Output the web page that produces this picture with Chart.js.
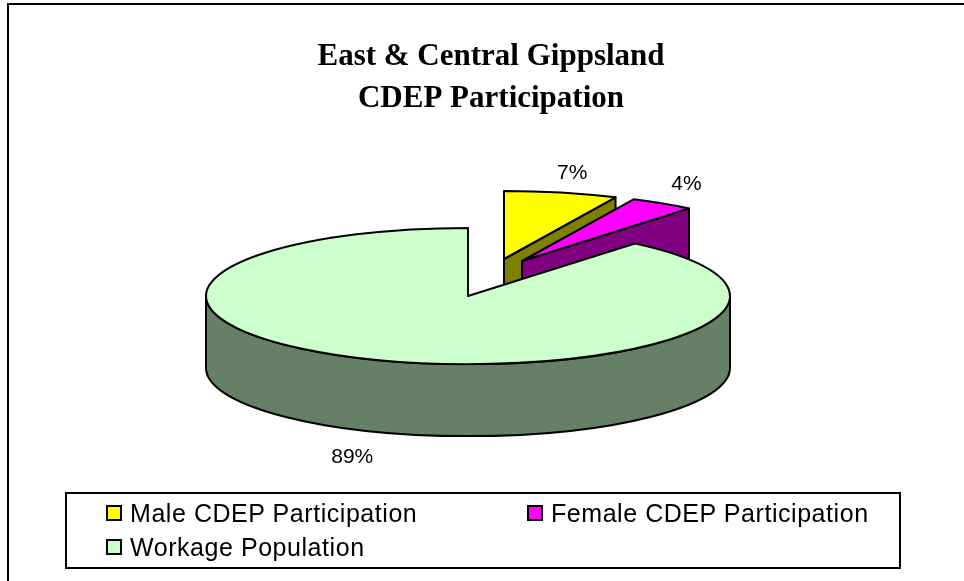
<!DOCTYPE html>
<html>
<head>
<meta charset="utf-8">
<title>East & Central Gippsland CDEP Participation</title>
<script src="https://cdn.jsdelivr.net/npm/chart.js@4"></script>
<style>
    html, body { margin: 0; padding: 0; background: #fff; overflow: hidden; }
    #wrap { position: relative; width: 964px; height: 581px; overflow: hidden; }
    #frame { position: absolute; left: 7px; top: 3px; width: 1000px; height: 700px; border: 2px solid #000; }
    #chart { position: absolute; left: 0; top: 0; }
    #legend { position: absolute; left: 65px; top: 492px; width: 832px; height: 73px; border: 2px solid #000;
              font-family: "Liberation Sans", Arial, sans-serif; font-size: 25px; letter-spacing: 0.55px; color: #000; }
    .item { position: absolute; white-space: nowrap; line-height: 28px; }
    .swatch { position: absolute; left: -24px; top: 6px; width: 12px; height: 12px; border: 2px solid #000; }
</style>
</head>
<body>
<div id="wrap">
    <div id="frame"></div>
    <canvas id="chart" width="964" height="581"></canvas>
    <div id="legend"></div>
</div>
<script>
const titleLines = ['East & Central Gippsland', 'CDEP Participation'];
const categories = ['Male CDEP Participation', 'Female CDEP Participation', 'Workage Population'];
const values = [7, 4, 89];
const topColors = ['#ffff00', '#ff00ff', '#ccffcc'];
const wallColors = ['#808000', '#800080', '#668066'];

// Vista 3D della torta
const pieX = 468;
const pieY = 296;
const pieRadius = 262;
const squash = 0.26;
const depth = 72;
const explodeX = [36, 54, 0];
const explodeY = [-37, -35, 0];
const labelNudgeX = [11, 24, -27];
const labelNudgeY = [-19, -19, 97];

const pie3d = {
    id: 'pie3d',
    beforeDatasetsDraw(chart) {
        const ctx = chart.ctx;
        const arcs = chart.getDatasetMeta(0).data;
        ctx.save();
        ctx.lineWidth = 2;
        ctx.lineJoin = 'round';
        ctx.strokeStyle = '#000';

        arcs.forEach((arc, i) => {
            const { startAngle, endAngle } = arc.getProps(['startAngle', 'endAngle'], true);
            const cx = pieX + explodeX[i];
            const cy = pieY + explodeY[i];
            const rimX = a => cx + Math.cos(a) * pieRadius;
            const rimY = a => cy + Math.sin(a) * pieRadius * squash;

            // Facce laterali visibili
            ctx.fillStyle = wallColors[i];
            [[endAngle, Math.cos(endAngle) > 0.001], [startAngle, Math.cos(startAngle) < -0.001]].forEach(([a, visible]) => {
                if (!visible) return;
                ctx.beginPath();
                ctx.moveTo(cx, cy);
                ctx.lineTo(rimX(a), rimY(a));
                ctx.lineTo(rimX(a), rimY(a) + depth);
                ctx.lineTo(cx, cy + depth);
                ctx.closePath();
                ctx.fill();
                ctx.stroke();
            });

            // Bordo esterno, solo la metà davanti
            const from = Math.max(startAngle, 0);
            const to = Math.min(endAngle, Math.PI);
            if (from < to) {
                ctx.beginPath();
                ctx.ellipse(cx, cy, pieRadius, pieRadius * squash, 0, from, to);
                ctx.lineTo(rimX(to), rimY(to) + depth);
                ctx.ellipse(cx, cy + depth, pieRadius, pieRadius * squash, 0, to, from, true);
                ctx.closePath();
                ctx.fill();
                ctx.stroke();
            }

            // Faccia superiore
            ctx.fillStyle = topColors[i];
            ctx.beginPath();
            ctx.moveTo(cx, cy);
            ctx.ellipse(cx, cy, pieRadius, pieRadius * squash, 0, startAngle, endAngle);
            ctx.closePath();
            ctx.fill();
            ctx.stroke();
        });

        // Etichette percentuali
        ctx.fillStyle = '#000';
        ctx.font = '21px "Liberation Sans", Arial, sans-serif';
        ctx.textAlign = 'center';
        ctx.textBaseline = 'middle';
        arcs.forEach((arc, i) => {
            const { startAngle, endAngle } = arc.getProps(['startAngle', 'endAngle'], true);
            const mid = (startAngle + endAngle) / 2;
            const x = pieX + explodeX[i] + Math.cos(mid) * pieRadius + labelNudgeX[i];
            const y = pieY + explodeY[i] + Math.sin(mid) * pieRadius * squash + labelNudgeY[i];
            ctx.fillText(values[i] + '%', x, y);
        });
        ctx.restore();
        return false; // la torta piatta non va disegnata
    }
};

new Chart(document.getElementById('chart'), {
    type: 'pie',
    data: {
        labels: categories,
        datasets: [{ data: values, backgroundColor: topColors, borderWidth: 0 }]
    },
    options: {
        responsive: false,
        animation: false,
        radius: pieRadius,
        layout: { padding: { left: 18 } },
        events: [],
        plugins: {
            legend: { display: false },
            tooltip: { enabled: false },
            title: {
                display: true,
                text: titleLines,
                color: '#000',
                font: { family: '"Liberation Serif", "Times New Roman", serif', size: 31, weight: 'bold', lineHeight: 1.355 },
                padding: { top: 36, bottom: 10 }
            }
        }
    },
    plugins: [pie3d]
});

// Legenda su due colonne dentro il riquadro
const legendBox = document.getElementById('legend');
const legendLeft = [63, 484, 63];
const legendTop = [5, 5, 39];
categories.forEach((name, i) => {
    const item = document.createElement('div');
    item.className = 'item';
    item.style.left = legendLeft[i] + 'px';
    item.style.top = legendTop[i] + 'px';
    const box = document.createElement('span');
    box.className = 'swatch';
    box.style.background = topColors[i];
    item.appendChild(box);
    item.appendChild(document.createTextNode(name));
    legendBox.appendChild(item);
});
</script>
</body>
</html>
